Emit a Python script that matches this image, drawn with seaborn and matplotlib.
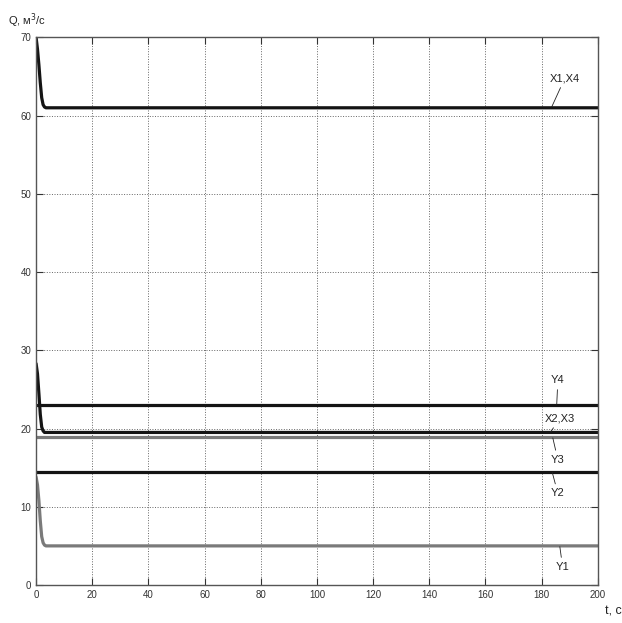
import matplotlib
matplotlib.use("Agg")
import matplotlib.pyplot as plt
import pandas as pd
import seaborn as sns

# time points, seconds
t = [0, 0.5, 1.0, 1.5, 2.0, 2.5, 3.0, 3.5, 4.0, 200]

# flow values for each curve, m^3/s
x1x4 = [70, 68.5, 66.5, 64.2, 62.3, 61.4, 61.1, 61.0, 61.0, 61.0]
y4 = [23, 23, 23, 23, 23, 23, 23, 23, 23, 23]
x2x3 = [28.3, 27.0, 24.5, 21.8, 20.2, 19.7, 19.5, 19.5, 19.5, 19.5]
y3 = [18.9, 18.9, 18.9, 18.9, 18.9, 18.9, 18.9, 18.9, 18.9, 18.9]
y2 = [14.5, 14.5, 14.5, 14.5, 14.5, 14.5, 14.5, 14.5, 14.5, 14.5]
y1 = [13.8, 12.8, 10.8, 8.2, 6.2, 5.4, 5.1, 5.0, 5.0, 5.0]

names = ["X1,X4", "Y4", "X2,X3", "Y3", "Y2", "Y1"]
values = [x1x4, y4, x2x3, y3, y2, y1]
colors = ["#141414", "#141414", "#141414", "#7a7a7a", "#141414", "#7a7a7a"]

# label text position and where the leader line touches the curve
label_pos = [(188.3, 64.8), (185.8, 26.2), (186.5, 21.3), (185.8, 16.0), (185.8, 11.7), (187.5, 2.3)]
label_tip = [(183.6, 61.1), (185.4, 23.1), (183.3, 19.6), (184.0, 18.8), (183.8, 14.4), (186.5, 4.9)]

sns.set_style("white")
plt.rcParams["font.family"] = ["Liberation Sans", "DejaVu Sans"]

fig = plt.figure(figsize=(6.22, 6.23), dpi=100)
ax = fig.add_axes([0.058, 0.061, 0.903, 0.879])

for name, vals, col in zip(names, values, colors):
    df = pd.DataFrame({"t": t, "q": vals})
    sns.lineplot(data=df, x="t", y="q", ax=ax, color=col, linewidth=2.3)

for name, pos, tip in zip(names, label_pos, label_tip):
    ax.annotate(name, xy=tip, xytext=pos, ha="center", va="center",
                fontsize=8, color="#222222",
                arrowprops=dict(arrowstyle="-", lw=0.6, color="#222222",
                                shrinkA=1, shrinkB=0))

ax.set_xlim(0, 200)
ax.set_ylim(0, 70)
ax.set_xticks(range(0, 201, 20))
ax.set_yticks(range(0, 71, 10))
ax.set_xlabel("")
ax.set_ylabel("")
ax.grid(True, linestyle=":", color="#666666", linewidth=0.7)
ax.tick_params(direction="in", length=5, labelsize=7, colors="#333333",
               top=True, right=True, bottom=True, left=True)
for sp in ax.spines.values():
    sp.set_color("#555555")
    sp.set_linewidth(1.0)

fig.text(0.013, 0.966, "Q, м$^3$/с", fontsize=8, color="#222222", va="center")
fig.text(0.972, 0.018, "t, c", fontsize=9, color="#222222", va="center")

plt.savefig("out.png", dpi=100)
